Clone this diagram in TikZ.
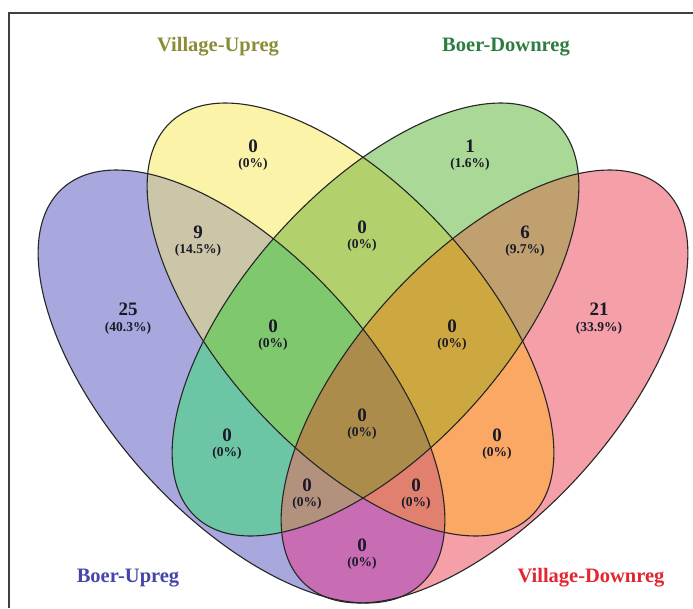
\documentclass[tikz,border=0pt]{standalone}
\usepackage{fontspec}
\setmainfont{Liberation Serif}
\definecolor{cBo}{RGB}{168,168,222}
\definecolor{cYo}{RGB}{250,243,168}
\definecolor{cGo}{RGB}{170,216,150}
\definecolor{cPo}{RGB}{245,160,168}
\definecolor{cBY}{RGB}{203,198,168}
\definecolor{cYG}{RGB}{178,208,108}
\definecolor{cGP}{RGB}{192,160,110}
\definecolor{cBG}{RGB}{108,198,165}
\definecolor{cYP}{RGB}{250,168,100}
\definecolor{cBP}{RGB}{200,108,180}
\definecolor{cBYG}{RGB}{128,200,110}
\definecolor{cYGP}{RGB}{205,168,65}
\definecolor{cBGP}{RGB}{178,145,125}
\definecolor{cBYP}{RGB}{225,128,110}
\definecolor{cBYGP}{RGB}{172,140,75}
\definecolor{cBG2}{RGB}{108,198,165}
\definecolor{tY}{RGB}{140,140,55}
\definecolor{tG}{RGB}{45,125,65}
\definecolor{tB}{RGB}{70,70,170}
\definecolor{tP}{RGB}{228,38,48}
\definecolor{numc}{RGB}{25,25,40}
\newcommand\ellB[1]{\path[#1, rotate around={-47.9:(241.5,386.5)}] (241.5,386.5) ellipse [x radius=267pt, y radius=130pt];}
\newcommand\ellY[1]{\path[#1, rotate around={-47.9:(350.5,319.5)}] (350.5,319.5) ellipse [x radius=267pt, y radius=130pt];}
\newcommand\ellG[1]{\path[#1, rotate around={47.9:(375.5,319.5)}] (375.5,319.5) ellipse [x radius=267pt, y radius=130pt];}
\newcommand\ellP[1]{\path[#1, rotate around={47.9:(484.5,386.5)}] (484.5,386.5) ellipse [x radius=267pt, y radius=130pt];}
\begin{document}
\begin{tikzpicture}[x=1pt,y=-1pt,
  vline/.style={draw=black!85, line width=1.1pt},
  num/.style={inner sep=0pt, text=numc, font=\fontsize{19}{19}\selectfont\bfseries},
  pct/.style={inner sep=0pt, text=numc, font=\fontsize{13.5}{14}\selectfont\bfseries},
  ttl/.style={inner sep=0pt, font=\fontsize{20.5}{21}\selectfont\bfseries}]
\useasboundingbox (0,0) rectangle (693,608);
\fill[white] (0,0) rectangle (693,608);
\coordinate (fa) at (9,608);
\coordinate (fb) at (9,13);
\coordinate (fc) at (693,13);
\draw[line width=1.4pt, black!75] (fa) -- (fb) -- (fc);
% single sets
\ellB{fill=cBo}
\ellY{fill=cYo}
\ellG{fill=cGo}
\ellP{fill=cPo}
% pairs
\begin{scope}\ellB{clip}\ellY{fill=cBY}\end{scope}
\begin{scope}\ellB{clip}\ellG{fill=cBG}\end{scope}
\begin{scope}\ellB{clip}\ellP{fill=cBP}\end{scope}
\begin{scope}\ellY{clip}\ellG{fill=cYG}\end{scope}
\begin{scope}\ellY{clip}\ellP{fill=cYP}\end{scope}
\begin{scope}\ellG{clip}\ellP{fill=cGP}\end{scope}
% triples
\begin{scope}\ellB{clip}\ellY{clip}\ellG{fill=cBYG}\end{scope}
\begin{scope}\ellB{clip}\ellY{clip}\ellP{fill=cBYP}\end{scope}
\begin{scope}\ellB{clip}\ellG{clip}\ellP{fill=cBGP}\end{scope}
\begin{scope}\ellY{clip}\ellG{clip}\ellP{fill=cYGP}\end{scope}
% all four
\begin{scope}\ellB{clip}\ellY{clip}\ellG{clip}\ellP{fill=cBYGP}\end{scope}
% outlines
\ellB{vline}
\ellY{vline}
\ellG{vline}
\ellP{vline}
% titles
\node[ttl, text=tY] (tvu) at (218,47) {Village-Upreg};
\node[ttl, text=tG] (tbd) at (506,47) {Boer-Downreg};
\node[ttl, text=tB] (tbu) at (128,578) {Boer-Upreg};
\node[ttl, text=tP] (tvd) at (591,578) {Village-Downreg};
% region labels
\node[num] (n1) at (253,146) {0};   \node[pct] (p1) at (253,164) {(0\%)};
\node[num] (n2) at (470,146) {1};   \node[pct] (p2) at (470,164) {(1.6\%)};
\node[num] (n3) at (198,232) {9};   \node[pct] (p3) at (198,250) {(14.5\%)};
\node[num] (n4) at (362,227) {0};   \node[pct] (p4) at (362,245) {(0\%)};
\node[num] (n5) at (525,232) {6};   \node[pct] (p5) at (525,250) {(9.7\%)};
\node[num] (n6) at (128,309) {25};  \node[pct] (p6) at (128,328) {(40.3\%)};
\node[num] (n7) at (599,309) {21};  \node[pct] (p7) at (599,328) {(33.9\%)};
\node[num] (n8) at (273,326) {0};   \node[pct] (p8) at (273,344) {(0\%)};
\node[num] (n9) at (452,326) {0};   \node[pct] (p9) at (452,344) {(0\%)};
\node[num] (n10) at (362,415) {0};  \node[pct] (p10) at (362,433) {(0\%)};
\node[num] (n11) at (227,435) {0};  \node[pct] (p11) at (227,453) {(0\%)};
\node[num] (n12) at (497,435) {0};  \node[pct] (p12) at (497,453) {(0\%)};
\node[num] (n13) at (307,485) {0};  \node[pct] (p13) at (307,503) {(0\%)};
\node[num] (n14) at (416,485) {0};  \node[pct] (p14) at (416,503) {(0\%)};
\node[num] (n15) at (362,545) {0};  \node[pct] (p15) at (362,563) {(0\%)};
\end{tikzpicture}
\end{document}
